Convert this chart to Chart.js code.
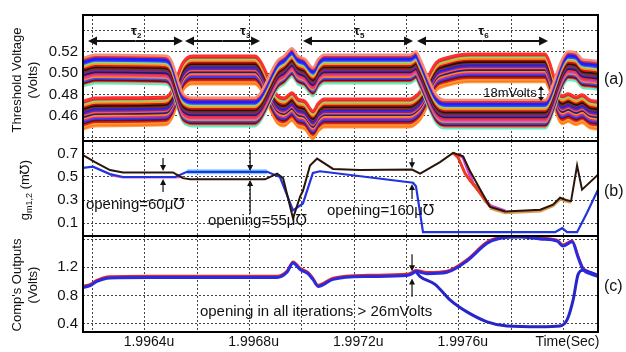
<!DOCTYPE html>
<html>
<head>
<meta charset="utf-8">
<script src="https://cdn.jsdelivr.net/npm/chart.js@4.4.1/dist/chart.umd.min.js"></script>
<style>
  body { margin: 0; background: #fff; }
  #wrap { position: relative; width: 626px; height: 352px; }
  #wrap canvas { position: absolute; left: 0; }
</style>
</head>
<body>
<div id="wrap">
  <canvas id="panelA" width="626" height="143" style="top:0px"></canvas>
  <canvas id="panelB" width="626" height="99" style="top:139px"></canvas>
  <canvas id="panelC" width="626" height="118" style="top:234px"></canvas>
</div>
<script>
// time axis is kept in units of 1e-4 us, so 19964 reads as 1.9964u
const timeTicks = [19962, 19964, 19966, 19968, 19970, 19972, 19974, 19976, 19978, 19980];
const timeLabels = ['', '1.9964u', '', '1.9968u', '', '1.9972u', '', '1.9976u', '', 'Time(Sec)'];
const timeMin = 19961.63, timeMax = 19981.32;

// (a) threshold voltage: two groups of iterations swapping between the high and low state
const vtTime = [19961.63, 19962.1, 19964.8, 19965.0, 19965.45, 19965.8, 19968.2, 19968.4, 19969.05, 19969.32,
  19969.62, 19969.85, 19970.12, 19970.42, 19970.62, 19970.85, 19974.13, 19974.36, 19974.52, 19975.13,
  19975.47, 19976.43, 19979.3, 19979.41, 19979.95, 19980.18, 19980.48, 19980.71, 19981.02, 19981.32];
const vtGroup1 = [0.501, 0.504, 0.503, 0.499, 0.468, 0.464, 0.464, 0.468, 0.498, 0.503,
  0.510, 0.503, 0.500, 0.492, 0.500, 0.504, 0.504, 0.507, 0.500, 0.467,
  0.462, 0.462, 0.462, 0.465, 0.500, 0.507, 0.506, 0.500, 0.499, 0.498];
const vtGroup2 = [0.461, 0.464, 0.465, 0.470, 0.497, 0.503, 0.503, 0.499, 0.467, 0.464,
  0.469, 0.463, 0.461, 0.452, 0.459, 0.463, 0.463, 0.466, 0.470, 0.497,
  0.501, 0.505, 0.505, 0.501, 0.466, 0.468, 0.465, 0.467, 0.462, 0.461];
// each iteration's offset from its group centre, in mV, top to bottom
const spread1 = [13, 11.5, 10, 8.8, 7.5, 6, 4.5, 3, 1.5, 0, -1.5, -3, -4.5, -6, -7.5, -9, -10.5, -11.5, -13.5];
const colors1 = ['#f0907a', '#e83030', '#1f1fff', '#1f1fff', '#3a48ff', '#8fd870', '#ff9020', '#d01818', '#181818', '#8a2b1a',
  '#6a2a9a', '#1a1a70', '#f03030', '#d040c0', '#ff8020', '#2a50ff', '#7a0a0a', '#ff4040', '#5ff0c0'];
const spread2 = [13, 11.5, 10, 8.5, 7, 5.5, 4, 2.5, 1, -0.5, -2, -3.5, -5, -6.5, -8, -9.5, -11, -12.5, -13.5];
const colors2 = ['#ff3030', '#e82828', '#8fd870', '#ff9020', '#c81010', '#151515', '#8a2b1a', '#2020f0', '#6a2a9a', '#ff5050',
  '#20207a', '#ff8c1a', '#d03090', '#2a3aff', '#701010', '#e02020', '#ff9a30', '#ff7a1a', '#ffa050'];
const vtTicks = [0.44, 0.46, 0.48, 0.50, 0.52, 0.54];
const vtTickLabels = ['', '0.46', '0.48', '0.50', '0.52', ''];

// (b) gm1,2 in m-mho
const gmBlackT = [19961.63, 19962.09, 19962.66, 19963.16, 19965.07, 19965.45, 19965.72, 19968.59, 19969.05, 19969.28,
  19969.66, 19969.93, 19970.04, 19970.31, 19970.58, 19971.19, 19972.22, 19974.21, 19974.52, 19975.28,
  19975.78, 19976.16, 19976.43, 19977.19, 19977.77, 19979.11, 19979.6, 19979.87, 19980.1, 19980.29,
  19980.52, 19980.71, 19981.32];
const gmBlack = [0.69, 0.63, 0.56, 0.54, 0.54, 0.49, 0.48, 0.48, 0.53, 0.49,
  0.14, 0.33, 0.38, 0.60, 0.66, 0.57, 0.56, 0.565, 0.53, 0.63,
  0.71, 0.68, 0.55, 0.24, 0.20, 0.215, 0.26, 0.32, 0.30, 0.29,
  0.60, 0.39, 0.52];
const gmBlueT = [19961.63, 19962.01, 19962.66, 19963.16, 19965.15, 19965.61, 19968.67, 19969.16, 19969.66, 19970.04,
  19970.42, 19970.69, 19974.25, 19974.36, 19974.63, 19979.68, 19979.95, 19980.14, 19980.52, 19980.9, 19981.32];
const gmBlue = [0.58, 0.59, 0.525, 0.50, 0.50, 0.545, 0.545, 0.50, 0.21, 0.27,
  0.535, 0.55, 0.45, 0.42, 0.02, 0.02, 0.055, 0.02, 0.02, 0.19, 0.39];
const gmCyanT = [19965.61, 19968.67];
const gmCyan = [0.545, 0.545];
const gmRedT = [19975.78, 19975.97, 19976.24, 19976.43, 19976.62, 19977.19];
const gmRed = [0.71, 0.67, 0.53, 0.47, 0.42, 0.245];
const gmMagentaT = [19975.97, 19976.16, 19976.55, 19977.19, 19977.77];
const gmMagenta = [0.70, 0.67, 0.44, 0.25, 0.205];
const gmGreenT = [19976.62, 19977.0, 19977.4, 19977.77];
const gmGreen = [0.44, 0.29, 0.215, 0.205];
const gmOrangeT = [19977.19, 19977.77, 19979.11, 19979.6, 19979.87, 19980.1, 19980.29];
const gmOrange = [0.23, 0.19, 0.205, 0.25, 0.31, 0.29, 0.28];
const gmPinkT = [19962.66, 19963.16, 19965.15, 19965.45];
const gmPink = [0.515, 0.495, 0.495, 0.50];
const gmTicks = [0.1, 0.3, 0.5, 0.7];
const gmTickLabels = ['0.1', '0.3', '0.5', '0.7'];

// (c) comparator outputs
const compUpperT = [19961.63, 19961.9, 19962.16, 19962.66, 19964.19, 19969.05, 19969.43, 19969.66, 19969.93, 19970.23,
  19970.42, 19970.62, 19971.19, 19972.49, 19974.02, 19974.21, 19974.36, 19974.78, 19975.55, 19976.31,
  19977.08, 19977.58, 19978.34, 19979.11, 19979.76, 19979.98, 19980.33, 19980.56, 19980.75, 19981.02, 19981.32];
const compUpper = [0.914, 0.94, 1.00, 1.05, 1.057, 1.057, 1.13, 1.26, 1.17, 1.11,
  1.03, 0.93, 1.03, 1.07, 1.085, 1.11, 1.14, 1.11, 1.13, 1.29,
  1.54, 1.61, 1.63, 1.60, 1.57, 1.50, 1.56, 1.34, 1.17, 1.11, 1.07];
const compRed = [0.935, 0.96, 1.02, 1.07, 1.078, 1.078, 1.15, 1.28, 1.19, 1.13,
  1.05, 0.95, 1.05, 1.09, 1.105, 1.13, 1.16, 1.13, 1.15, 1.31,
  1.56, 1.625, 1.645, 1.615, 1.585, 1.52, 1.575, 1.36, 1.19, 1.13, 1.09];
const compLowerT = [19974.36, 19974.52, 19975.09, 19975.66, 19976.31, 19977.08, 19977.84, 19979.11, 19979.87, 19980.14,
  19980.37, 19980.56, 19980.75, 19981.02, 19981.32];
const compLower = [1.14, 1.07, 0.96, 0.74, 0.57, 0.43, 0.37, 0.36, 0.37, 0.46,
  0.74, 1.10, 1.16, 1.13, 1.086];
const compTicks = [0.4, 0.8, 1.2, 1.6];
const compTickLabels = ['0.4', '0.8', '1.2', ''];

const fontFamily = "'Liberation Sans', Arial, 'DejaVu Sans', sans-serif";
const ink = '#111';

function pts(ts, vs) {
  return ts.map((t, i) => ({ x: t, y: vs[i] }));
}

function line(ts, vs, color, width, smooth) {
  return {
    data: pts(ts, vs),
    borderColor: color,
    borderWidth: width,
    pointRadius: 0,
    tension: 0,
    cubicInterpolationMode: smooth ? 'monotone' : 'default'
  };
}

function drawArrow(ctx, x1, y1, x2, y2, len, half, width) {
  const a = Math.atan2(y2 - y1, x2 - x1);
  const c = Math.cos(a), s = Math.sin(a);
  ctx.lineWidth = width;
  ctx.beginPath();
  ctx.moveTo(x1, y1);
  ctx.lineTo(x2 - c * len * 0.7, y2 - s * len * 0.7);
  ctx.stroke();
  ctx.beginPath();
  ctx.moveTo(x2, y2);
  ctx.lineTo(x2 - c * len + s * half, y2 - s * len - c * half);
  ctx.lineTo(x2 - c * len - s * half, y2 - s * len + c * half);
  ctx.closePath();
  ctx.fill();
}

function vText(ctx, text, x, y, size) {
  ctx.save();
  ctx.translate(x, y);
  ctx.rotate(-Math.PI / 2);
  ctx.font = size + 'px ' + fontFamily;
  ctx.textAlign = 'center';
  ctx.textBaseline = 'middle';
  ctx.fillText(text, 0, 0);
  ctx.restore();
}

const framePlugin = {
  id: 'frame',
  afterDraw(chart) {
    const { ctx, chartArea: a } = chart;
    ctx.save();
    ctx.strokeStyle = '#000';
    ctx.lineWidth = 2;
    ctx.strokeRect(a.left, a.top, a.right - a.left, a.bottom - a.top);
    ctx.restore();
  }
};

// tau intervals along the top of (a)
const tauSpans = [
  { name: '2', from: 19961.82, to: 19965.45, label: 19963.66 },
  { name: '3', from: 19965.53, to: 19968.40, label: 19967.82 },
  { name: '5', from: 19970.04, to: 19974.25, label: 19972.18 },
  { name: '6', from: 19974.40, to: 19979.41, label: 19976.93 }
];

const panelAMarks = {
  id: 'panelAMarks',
  afterDraw(chart) {
    const { ctx } = chart;
    const xs = chart.scales.x, ys = chart.scales.y;
    ctx.save();
    ctx.fillStyle = ink;
    ctx.strokeStyle = ink;
    const ay = ys.getPixelForValue(0.5298);
    tauSpans.forEach(s => {
      const x1 = xs.getPixelForValue(s.from), x2 = xs.getPixelForValue(s.to);
      drawArrow(ctx, (x1 + x2) / 2, ay, x1, ay, 9, 4.5, 2);
      drawArrow(ctx, (x1 + x2) / 2, ay, x2, ay, 9, 4.5, 2);
      const lx = xs.getPixelForValue(s.label);
      ctx.font = 'bold 13px ' + fontFamily;
      ctx.textAlign = 'left';
      ctx.textBaseline = 'alphabetic';
      ctx.fillText('τ', lx - 5, ay - 6);
      ctx.font = 'bold 8px ' + fontFamily;
      ctx.fillText(s.name, lx + 1, ay - 3);
    });
    // gap between the two groups
    ctx.font = '13px ' + fontFamily;
    ctx.textAlign = 'left';
    ctx.textBaseline = 'middle';
    ctx.fillText('18mVolts', xs.getPixelForValue(19976.93), ys.getPixelForValue(0.4814));
    const gx = xs.getPixelForValue(19979.14);
    const gy1 = ys.getPixelForValue(0.4879), gy2 = ys.getPixelForValue(0.474);
    drawArrow(ctx, gx, (gy1 + gy2) / 2, gx, gy1, 4, 3, 1.2);
    drawArrow(ctx, gx, (gy1 + gy2) / 2, gx, gy2, 4, 3, 1.2);
    // axis title and panel tag
    vText(ctx, 'Threshold Voltage', 17, 80, 13);
    vText(ctx, '(Volts)', 33, 80, 13);
    ctx.font = '16px ' + fontFamily;
    ctx.textAlign = 'left';
    ctx.fillText('(a)', 604, 80);
    ctx.restore();
  }
};

// opening markers in (b): arrow pair and caption
const gmOpenings = [
  { x: 19964.69, downFrom: 0.665, downTo: 0.552, upFrom: 0.37, upTo: 0.483, text: 'opening=60μ℧', tx: 19961.74, ty: 0.257 },
  { x: 19968.02, downFrom: 0.735, downTo: 0.552, upFrom: 0.178, upTo: 0.474, text: 'opening=55μ℧', tx: 19966.41, ty: 0.117 },
  { x: 19974.21, downFrom: 0.665, downTo: 0.575, upFrom: 0.309, upTo: 0.439, text: 'opening=160μ℧', tx: 19970.96, ty: 0.204 }
];

function drawOpening(ctx, xs, ys, o, size) {
  const x = xs.getPixelForValue(o.x);
  drawArrow(ctx, x, ys.getPixelForValue(o.downFrom), x, ys.getPixelForValue(o.downTo), 6, 3, 1.2);
  drawArrow(ctx, x, ys.getPixelForValue(o.upFrom), x, ys.getPixelForValue(o.upTo), 6, 3, 1.2);
  ctx.font = size + 'px ' + fontFamily;
  ctx.textAlign = 'left';
  ctx.textBaseline = 'middle';
  ctx.fillText(o.text, xs.getPixelForValue(o.tx), ys.getPixelForValue(o.ty));
}

const panelBMarks = {
  id: 'panelBMarks',
  afterDraw(chart) {
    const { ctx } = chart;
    const xs = chart.scales.x, ys = chart.scales.y;
    ctx.save();
    ctx.fillStyle = ink;
    ctx.strokeStyle = ink;
    gmOpenings.forEach(o => drawOpening(ctx, xs, ys, o, 15));
    // g_m1,2 (m-mho) written bottom to top with subscript
    ctx.translate(26, 51);
    ctx.rotate(-Math.PI / 2);
    ctx.textBaseline = 'middle';
    ctx.textAlign = 'left';
    ctx.font = '13px ' + fontFamily;
    const w1 = ctx.measureText('g').width;
    ctx.font = '9px ' + fontFamily;
    const w2 = ctx.measureText('m1,2').width;
    ctx.font = '13px ' + fontFamily;
    const w3 = ctx.measureText(' (m℧)').width;
    let x0 = -(w1 + w2 + w3) / 2;
    ctx.fillText('g', x0, -1);
    ctx.font = '9px ' + fontFamily;
    ctx.fillText('m1,2', x0 + w1, 4);
    ctx.font = '13px ' + fontFamily;
    ctx.fillText(' (m℧)', x0 + w1 + w2, -1);
    ctx.restore();
    ctx.save();
    ctx.fillStyle = ink;
    ctx.font = '16px ' + fontFamily;
    ctx.textBaseline = 'middle';
    ctx.fillText('(b)', 604, 53);
    ctx.restore();
  }
};

const compOpening = { x: 19974.21, downFrom: 1.386, downTo: 1.143, upFrom: 0.786, upTo: 1.043, text: 'opening in all iterations > 26mVolts', tx: 19966.10, ty: 0.571 };

const panelCMarks = {
  id: 'panelCMarks',
  afterDraw(chart) {
    const { ctx } = chart;
    const xs = chart.scales.x, ys = chart.scales.y;
    ctx.save();
    ctx.fillStyle = ink;
    ctx.strokeStyle = ink;
    drawOpening(ctx, xs, ys, compOpening, 15);
    vText(ctx, "Comp's Outputs", 17, 51, 13);
    vText(ctx, '(Volts)', 33, 51, 13);
    ctx.font = '16px ' + fontFamily;
    ctx.textAlign = 'left';
    ctx.textBaseline = 'middle';
    ctx.fillText('(c)', 604, 53);
    ctx.restore();
  }
};

function panel(id, datasets, y, layout, marks) {
  return new Chart(id, {
    type: 'line',
    data: { datasets },
    options: {
      responsive: false,
      animation: false,
      events: [],
      layout: { padding: { left: 0, right: 28, top: layout.top, bottom: layout.bottom } },
      plugins: { legend: { display: false }, tooltip: { enabled: false } },
      scales: {
        x: {
          type: 'linear',
          min: timeMin,
          max: timeMax,
          afterBuildTicks: s => { s.ticks = timeTicks.map(v => ({ value: v })); },
          afterFit: s => {
            s.height = layout.xHeight;
            s.paddingLeft = 0;
            s.paddingRight = 0;
          },
          ticks: {
            display: layout.showTime,
            autoSkip: false,
            maxRotation: 0,
            padding: 2,
            labelOffset: 4,
            color: ink,
            font: { family: fontFamily, size: 14 },
            callback: (v, i) => timeLabels[i]
          },
          grid: { color: '#444', lineWidth: 1, drawTicks: false },
          border: { display: false, dash: [2, 2] }
        },
        y: {
          min: y.min,
          max: y.max,
          afterBuildTicks: s => { s.ticks = y.ticks.map(v => ({ value: v })); },
          afterFit: s => {
            s.width = 83;
            s.paddingTop = 0;
            s.paddingBottom = 0;
          },
          ticks: {
            autoSkip: false,
            padding: 5,
            color: ink,
            font: { family: fontFamily, size: 15 },
            callback: (v, i) => y.labels[i]
          },
          grid: { color: '#444', lineWidth: 1, drawTicks: false },
          border: { display: false, dash: [2, 2] }
        }
      }
    },
    plugins: [framePlugin, marks]
  });
}

// (a) one line per iteration
const vtSets = [];
function addGroup(centre, spread, colors) {
  spread.forEach((mv, i) => {
    vtSets.push(line(vtTime, centre.map(v => v + mv / 1000), colors[i], 2.4, true));
  });
}
addGroup(vtGroup1, spread1, colors1);
addGroup(vtGroup2, spread2, colors2);

panel('panelA', vtSets,
  { min: 0.4367, max: 0.554, ticks: vtTicks, labels: vtTickLabels },
  { top: 15, bottom: 2, xHeight: 0, showTime: false }, panelAMarks);

panel('panelB', [
  line(gmBlackT, gmBlack, '#2a1508', 2, false),
  line(gmBlueT, gmBlue, '#2233e0', 2.2, false),
  line(gmPinkT, gmPink, '#e060c0', 2, false),
  line(gmOrangeT, gmOrange, '#d89a50', 3, false),
  line(gmRedT, gmRed, '#f03a20', 3, false),
  line(gmMagentaT, gmMagenta, '#d040d0', 3, false),
  line(gmGreenT, gmGreen, '#80e070', 3, false),
  line(gmCyanT, gmCyan, '#80d0ff', 5, false)
], { min: -0.013, max: 0.813, ticks: gmTicks, labels: gmTickLabels },
  { top: 2, bottom: 2, xHeight: 0, showTime: false }, panelBMarks);

panel('panelC', [
  line(compUpperT, compUpper, '#2a2ae0', 3, true),
  line(compLowerT, compLower, '#2626c8', 3, true),
  line(compUpperT, compRed, '#e02828', 2.5, true)
], { min: 0.286, max: 1.643, ticks: compTicks, labels: compTickLabels },
  { top: 2, bottom: 0, xHeight: 20, showTime: true }, panelCMarks);
</script>
</body>
</html>
